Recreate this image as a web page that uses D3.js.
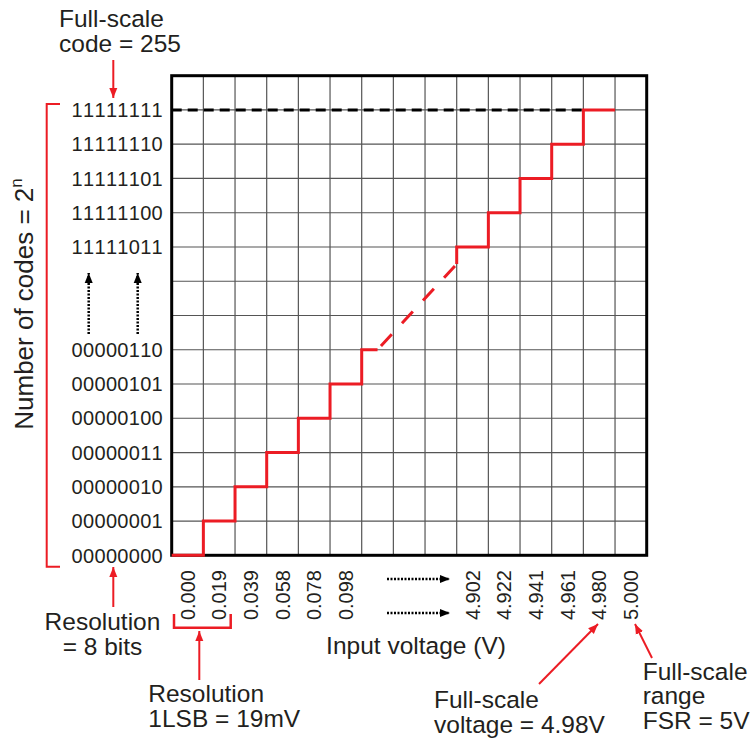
<!DOCTYPE html>
<html>
<head>
<meta charset="utf-8">
<script src="https://cdn.jsdelivr.net/npm/d3@7"></script>
<style>
  html, body { margin: 0; padding: 0; background: #fff; }
  svg { display: block; }
  text { font-family: "Liberation Sans", Arial, Helvetica, sans-serif; fill: #231f20; font-kerning: none; }
</style>
</head>
<body>
<svg id="chart" width="755" height="738"></svg>
<script>
// ---------------- data ----------------
const lowCodes  = [0, 1, 2, 3, 4, 5, 6];          // shown output codes (bottom part)
const highCodes = [251, 252, 253, 254, 255];      // shown output codes (top part)
const lowVolts  = ["0.000", "0.019", "0.039", "0.058", "0.078", "0.098"];   // codes 0..5
const highVolts = ["4.902", "4.922", "4.941", "4.961", "4.980", "5.000"];   // codes 251..256
const lowVoltCodes  = [0, 1, 2, 3, 4, 5];
const highVoltCodes = [251, 252, 253, 254, 255, 256];
const fullScaleCode = 255;
const nCols = 15, nRows = 14;
const breakOffset = 242;   // axis break: code 251 drawn at slot 9

// ---------------- setup ----------------
const RED = "#ec1c24";
const svg = d3.select("#chart");
const slot = c => (c <= 6 ? c : c - breakOffset);
const x = d3.scaleLinear().domain([0, nCols]).range([171.7, 646.7]);
const y = d3.scaleLinear().domain([0, nRows]).range([555.3, 75.7]);

const defs = svg.append("defs");
function marker(id, color) {
  defs.append("marker").attr("id", id).attr("viewBox", "0 0 10 10")
    .attr("refX", 10).attr("refY", 5).attr("markerWidth", 10).attr("markerHeight", 10)
    .attr("markerUnits", "userSpaceOnUse").attr("orient", "auto")
    .append("path").attr("d", "M0,1 L10,5 L0,9 Z").attr("fill", color);
}
marker("redHead", RED);
marker("blackHead", "#000");

// ---------------- grid ----------------
const grid = svg.append("g");
grid.selectAll("line.v").data(d3.range(1, nCols)).join("line")
  .attr("x1", d => x(d)).attr("x2", d => x(d)).attr("y1", y(0)).attr("y2", y(nRows))
  .attr("stroke", "#555").attr("stroke-width", 1.2);
grid.selectAll("line.h").data(d3.range(1, nRows)).join("line")
  .attr("x1", x(0)).attr("x2", x(nCols)).attr("y1", d => y(d)).attr("y2", d => y(d))
  .attr("stroke", "#555").attr("stroke-width", 1.2);

// frame
svg.append("rect").attr("x", x(0)).attr("y", y(nRows))
  .attr("width", x(nCols) - x(0)).attr("height", y(0) - y(nRows))
  .attr("fill", "none").attr("stroke", "#000").attr("stroke-width", 3);

// full-scale dashed reference
svg.append("line")
  .attr("x1", x(0)).attr("x2", x(slot(fullScaleCode)))
  .attr("y1", y(slot(fullScaleCode))).attr("y2", y(slot(fullScaleCode)))
  .attr("stroke", "#000").attr("stroke-width", 3).attr("stroke-dasharray", "10,6");

// ---------------- staircase ----------------
const stepLine = d3.line().x(d => x(d[0])).y(d => y(d[1])).curve(d3.curveStepAfter);
const lowPts = lowCodes.map(c => [slot(c), slot(c)]);
lowPts.push([slot(6) + 0.5, slot(6)]);
svg.append("path").attr("d", stepLine(lowPts))
  .attr("fill", "none").attr("stroke", RED).attr("stroke-width", 3);

const gapStart = [slot(6) + 0.5, slot(6)];
const gapEnd = [slot(highCodes[0]), slot(highCodes[0]) - 0.5];
svg.append("path").attr("d", d3.line().x(d => x(d[0])).y(d => y(d[1]))([gapStart, gapEnd]))
  .attr("fill", "none").attr("stroke", RED).attr("stroke-width", 3)
  .attr("stroke-dasharray", "0,5,16,10");

const highPts = [gapEnd].concat(highCodes.map(c => [slot(c), slot(c)]));
highPts.push([slot(fullScaleCode) + 1, slot(fullScaleCode)]);
svg.append("path").attr("d", stepLine(highPts))
  .attr("fill", "none").attr("stroke", RED).attr("stroke-width", 3);

// ---------------- y labels ----------------
const bin = c => c.toString(2).padStart(8, "0");
svg.append("g").selectAll("text").data(lowCodes.concat(highCodes)).join("text")
  .attr("x", 163).attr("y", d => y(slot(d))).attr("dy", "0.36em")
  .attr("text-anchor", "end").attr("font-size", 20).attr("letter-spacing", 0.3)
  .text(bin);

// ---------------- x labels ----------------
const xl = lowVoltCodes.map((c, i) => ({c, t: lowVolts[i]}))
  .concat(highVoltCodes.map((c, i) => ({c, t: highVolts[i]})));
svg.append("g").selectAll("text").data(xl).join("text")
  .attr("transform", d => `translate(${x(slot(d.c) + 0.5) + 7},570) rotate(-90)`)
  .attr("text-anchor", "end").attr("font-size", 20)
  .text(d => d.t);

// ---------------- titles ----------------
const yt = svg.append("text").attr("transform", "translate(33,304) rotate(-90)")
  .attr("text-anchor", "middle").attr("font-size", 26);
yt.append("tspan").text("Number of codes = 2");
yt.append("tspan").attr("font-size", 17).attr("dy", -11).text("n");

svg.append("text").attr("x", 416).attr("y", 654).attr("text-anchor", "middle")
  .attr("font-size", 24.5).text("Input voltage (V)");

// ---------------- dotted arrows ----------------
function dotted(x1, y1, x2, y2) {
  svg.append("line").attr("x1", x1).attr("y1", y1).attr("x2", x2).attr("y2", y2)
    .attr("stroke", "#000").attr("stroke-width", 2.5).attr("stroke-dasharray", "2,1.5")
    .attr("marker-end", "url(#blackHead)");
}
dotted(387, 579, 450, 579);
dotted(387, 613, 450, 613);
dotted(88.7, 334, 88.7, 273);
dotted(137.7, 334, 137.7, 273);

// ---------------- red annotations ----------------
function redArrow(x1, y1, x2, y2) {
  svg.append("line").attr("x1", x1).attr("y1", y1).attr("x2", x2).attr("y2", y2)
    .attr("stroke", RED).attr("stroke-width", 2).attr("marker-end", "url(#redHead)");
}
redArrow(113.3, 60, 113.3, 98);
redArrow(113.3, 607, 113.3, 567);
redArrow(199.3, 680, 199.3, 631);
redArrow(539, 684, 598, 624);
redArrow(652, 658, 635, 624);

// left bracket
svg.append("path").attr("d", "M60,104 H46.7 V566.7 H60")
  .attr("fill", "none").attr("stroke", RED).attr("stroke-width", 2);
// bottom bracket
svg.append("path").attr("d", "M174,614 V627.7 H230.7 V614")
  .attr("fill", "none").attr("stroke", RED).attr("stroke-width", 2.5);

function multiline(lines, xx, y0, anchor) {
  const t = svg.append("text").attr("font-size", 24.5).attr("text-anchor", anchor || "start");
  lines.forEach((l, i) => t.append("tspan").attr("x", xx).attr("y", y0 + i * 24.8).text(l));
}
multiline(["Full-scale", "code = 255"], 59, 27);
multiline(["Resolution", "= 8 bits"], 102.5, 630, "middle");
multiline(["Resolution", "1LSB = 19mV"], 148.3, 701.7);
multiline(["Full-scale", "voltage = 4.98V"], 434, 708);
multiline(["Full-scale", "range", "FSR = 5V"], 642.7, 679.5);
</script>
</body>
</html>
